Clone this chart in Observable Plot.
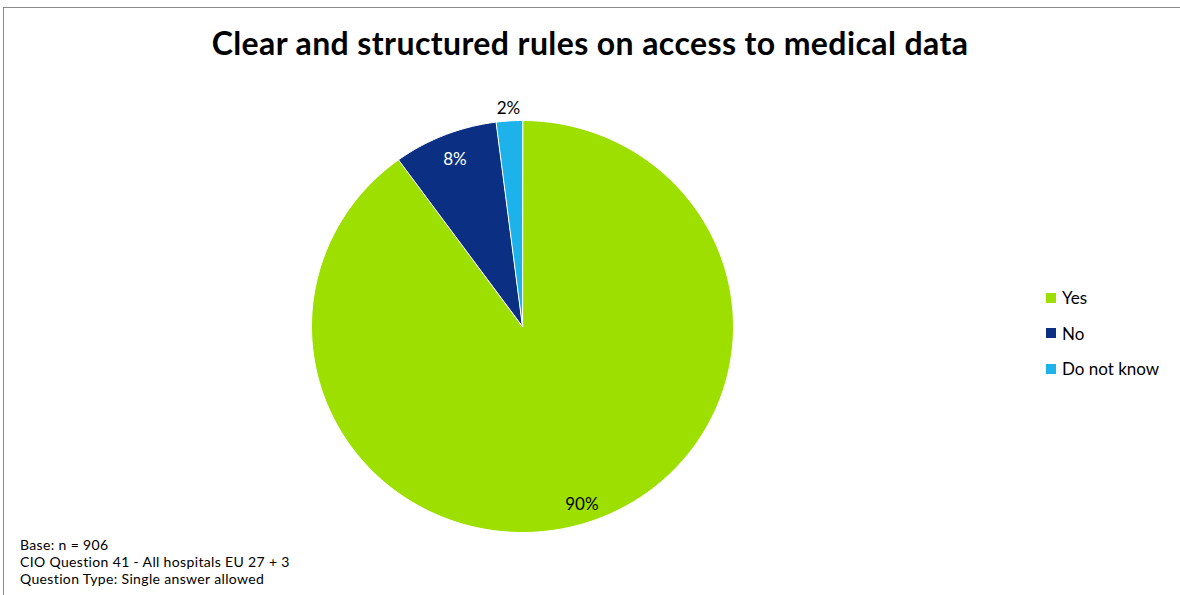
<!DOCTYPE html>
<html>
<head>
<meta charset="utf-8">
<script src="https://cdn.jsdelivr.net/npm/d3@7"></script>
<script src="https://cdn.jsdelivr.net/npm/@observablehq/plot@0.6"></script>
<style>
  html, body { margin: 0; padding: 0; background: #fff; }
  #chart { position: relative; width: 1180px; height: 595px; overflow: hidden; font-family: Lato, "Open Sans", sans-serif; }
  #frame { position: absolute; left: 3px; top: 7px; width: 1200px; height: 700px; border-left: 1px solid #8a8a8a; border-top: 1px solid #8a8a8a; }
  #title { position: absolute; left: 0; width: 1180px; top: 23px; text-align: center; font-weight: bold; font-size: 32px; color: #000; letter-spacing: 0.4px; }
  #plot { position: absolute; left: 0; top: 0; }
  #legend { position: absolute; left: 1046px; top: 280px; font-size: 17px; color: #000; }
  #legend .item { display: flex; align-items: center; height: 35.5px; }
  #legend .sw { width: 10px; height: 10px; margin-right: 6px; }
  #foot { position: absolute; left: 20px; top: 536px; font-size: 14px; line-height: 17px; color: #000; letter-spacing: 0.35px; }
</style>
</head>
<body>
<div id="chart">
  <div id="frame"></div>
  <div id="title"></div>
  <div id="plot"></div>
  <div id="legend"></div>
  <div id="foot"></div>
</div>
<script>
const categories = ["Yes", "No", "Do not know"];
const values = [90, 8, 2];
const labels = ["90%", "8%", "2%"];
const colors = ["#9de000", "#0b2f82", "#1db2ea"];
const titleText = "Clear and structured rules on access to medical data";
const footLines = ["Base: n = 906", "CIO Question 41 - All hospitals  EU 27 + 3", "Question Type: Single answer allowed"];

document.getElementById("title").textContent = titleText;
document.getElementById("foot").innerHTML = footLines.map(s => `<div>${s}</div>`).join("");
document.getElementById("legend").innerHTML = categories.map((c, i) =>
  `<div class="item"><span class="sw" style="background:${colors[i]}"></span><span>${c}</span></div>`).join("");

const table = categories.map((c, i) => ({category: c, value: values[i], label: labels[i]}));
const arcs = d3.pie().sort(null).value(d => d.value)(table);

// polygon outline of each slice (angles from 12 o'clock clockwise)
const poly = [];
arcs.forEach(a => {
  poly.push({category: a.data.category, x: 0, y: 0});
  const n = Math.max(2, Math.ceil((a.endAngle - a.startAngle) * 60));
  for (let k = 0; k <= n; k++) {
    const t = a.startAngle + (a.endAngle - a.startAngle) * k / n;
    poly.push({category: a.data.category, x: Math.sin(t), y: Math.cos(t)});
  }
});
const labelPts = arcs.map(a => {
  const m = (a.startAngle + a.endAngle) / 2;
  const r = a.data.value < 5 ? 1.06 : (a.data.value > 50 ? 0.91 : 0.87);
  return {label: a.data.label, category: a.data.category, x: r * Math.sin(m), y: r * Math.cos(m)};
});

const cx = 522, cy = 326, rx = 211, ry = 206;
const plot = Plot.plot({
  width: 1180, height: 595,
  margin: 0,
  x: {domain: [-1, 1], range: [cx - rx, cx + rx], axis: null},
  y: {domain: [-1, 1], range: [cy + ry, cy - ry], axis: null},
  color: {domain: categories, range: colors},
  marks: [
    Plot.line(poly, {x: "x", y: "y", z: "category", fill: "category", stroke: "#ffffff", strokeWidth: 1, curve: "linear-closed"}),
    Plot.text(labelPts, {x: "x", y: "y", text: "label", fontSize: 17,
      fill: d => d.category === "No" ? "#ffffff" : "#000000", fontFamily: "Lato, 'Open Sans', sans-serif"})
  ]
});
document.getElementById("plot").appendChild(plot);
</script>
</body>
</html>
